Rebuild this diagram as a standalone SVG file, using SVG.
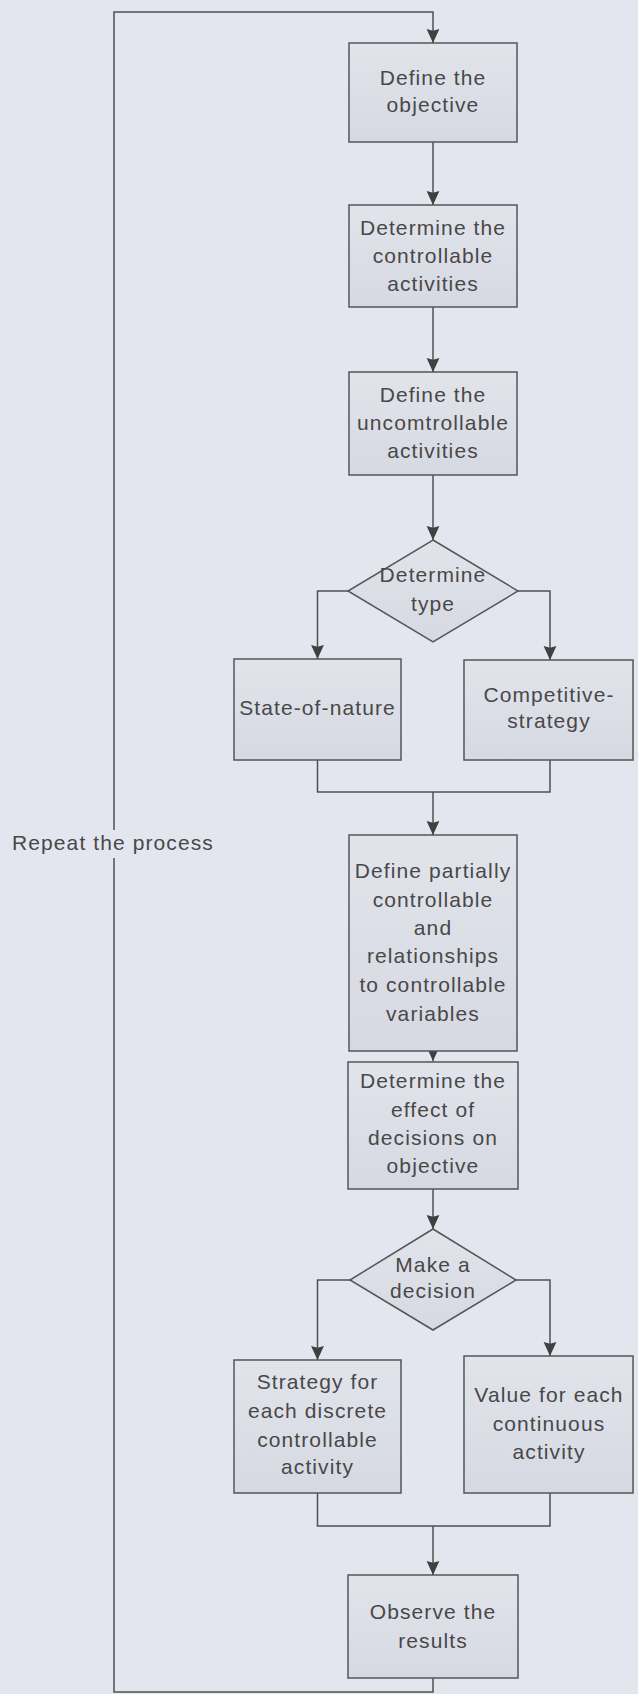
<svg xmlns="http://www.w3.org/2000/svg" width="638" height="1694" viewBox="0 0 638 1694">
  <defs>
    <linearGradient id="boxFill" x1="0" y1="0" x2="0" y2="1">
      <stop offset="0" stop-color="#e2e4ec"/>
      <stop offset="1" stop-color="#d7d9e2"/>
    </linearGradient>
    <marker id="arrow" markerUnits="userSpaceOnUse" markerWidth="14" markerHeight="14" viewBox="0 0 12 12" refX="12" refY="6" orient="auto">
      <path d="M0,0.5 L12,6 L0,11.5 L1.5,6 Z" fill="#404040"/>
    </marker>
    <style>
      .box { fill: url(#boxFill); stroke: #555; stroke-width: 1.5; }
      .dia { fill: url(#boxFill); stroke: #555; stroke-width: 1.5; }
      .wire { fill: none; stroke: #505050; stroke-width: 1.5; }
      .arr { marker-end: url(#arrow); }
      text { font-family: "Liberation Sans", Arial, sans-serif; font-size: 21px; letter-spacing: 1.1px; fill: #484848; }
      .c { text-anchor: middle; }
    </style>
  </defs>

  <rect width="638" height="1694" fill="#e4e6ef"/>

  <!-- connectors -->
  <g id="connectors">
    <path class="wire arr" d="M433,142 V205"/>
    <path class="wire arr" d="M433,307 V372"/>
    <path class="wire arr" d="M433,475 V540"/>
    <path class="wire arr" d="M348,591 H317.5 V659"/>
    <path class="wire arr" d="M518,591 H550 V660"/>
    <path class="wire" d="M317.5,760 V792 H550 V760"/>
    <path class="wire arr" d="M433,792 V835"/>
    <path class="wire arr" d="M433,1048 V1061"/>
    <path class="wire arr" d="M433,1189 V1229"/>
    <path class="wire arr" d="M350,1280 H317.5 V1360"/>
    <path class="wire arr" d="M516,1280 H550 V1356"/>
    <path class="wire" d="M317.5,1493 V1526 H550 V1493"/>
    <path class="wire arr" d="M433,1526 V1575"/>
    <!-- feedback loop back to the first step -->
    <path class="wire" d="M433,1678 V1692 H114 V858"/>
    <path class="wire arr" d="M114,830 V12 H433 V43"/>
    <text x="12" y="850">Repeat the process</text>
  </g>

  <g id="define-objective">
    <rect class="box" x="349" y="43" width="168" height="99"/>
    <text class="c" x="433" y="85">Define the</text>
    <text class="c" x="433" y="112">objective</text>
  </g>

  <g id="controllable">
    <rect class="box" x="349" y="205" width="168" height="102"/>
    <text class="c" x="433" y="235">Determine the</text>
    <text class="c" x="433" y="263">controllable</text>
    <text class="c" x="433" y="291">activities</text>
  </g>

  <g id="uncontrollable">
    <rect class="box" x="349" y="372" width="168" height="103"/>
    <text class="c" x="433" y="402">Define the</text>
    <text class="c" x="433" y="430">uncomtrollable</text>
    <text class="c" x="433" y="458">activities</text>
  </g>

  <g id="determine-type">
    <polygon class="dia" points="433,540 518,591 433,642 348,591"/>
    <text class="c" x="433" y="582">Determine</text>
    <text class="c" x="433" y="611">type</text>
  </g>

  <g id="state-of-nature">
    <rect class="box" x="234" y="659" width="167" height="101"/>
    <text class="c" x="317.5" y="715">State-of-nature</text>
  </g>

  <g id="competitive-strategy">
    <rect class="box" x="464" y="660" width="169" height="100"/>
    <text class="c" x="549" y="702">Competitive-</text>
    <text class="c" x="549" y="728">strategy</text>
  </g>

  <g id="partially-controllable">
    <rect class="box" x="349" y="835" width="168" height="216"/>
    <text class="c" x="433" y="878">Define partially</text>
    <text class="c" x="433" y="907">controllable</text>
    <text class="c" x="433" y="935">and</text>
    <text class="c" x="433" y="963">relationships</text>
    <text class="c" x="433" y="992">to controllable</text>
    <text class="c" x="433" y="1021">variables</text>
  </g>

  <g id="effect-of-decisions">
    <rect class="box" x="348" y="1062" width="170" height="127"/>
    <text class="c" x="433" y="1088">Determine the</text>
    <text class="c" x="433" y="1117">effect of</text>
    <text class="c" x="433" y="1145">decisions on</text>
    <text class="c" x="433" y="1173">objective</text>
  </g>

  <g id="make-decision">
    <polygon class="dia" points="433,1229 516,1280 433,1330 350,1280"/>
    <text class="c" x="433" y="1272">Make a</text>
    <text class="c" x="433" y="1298">decision</text>
  </g>

  <g id="discrete-strategy">
    <rect class="box" x="234" y="1360" width="167" height="133"/>
    <text class="c" x="317.5" y="1389">Strategy for</text>
    <text class="c" x="317.5" y="1418">each discrete</text>
    <text class="c" x="317.5" y="1447">controllable</text>
    <text class="c" x="317.5" y="1474">activity</text>
  </g>

  <g id="continuous-value">
    <rect class="box" x="464" y="1356" width="169" height="137"/>
    <text class="c" x="549" y="1402">Value for each</text>
    <text class="c" x="549" y="1431">continuous</text>
    <text class="c" x="549" y="1459">activity</text>
  </g>

  <g id="observe-results">
    <rect class="box" x="348" y="1575" width="170" height="103"/>
    <text class="c" x="433" y="1619">Observe the</text>
    <text class="c" x="433" y="1648">results</text>
  </g>
</svg>
